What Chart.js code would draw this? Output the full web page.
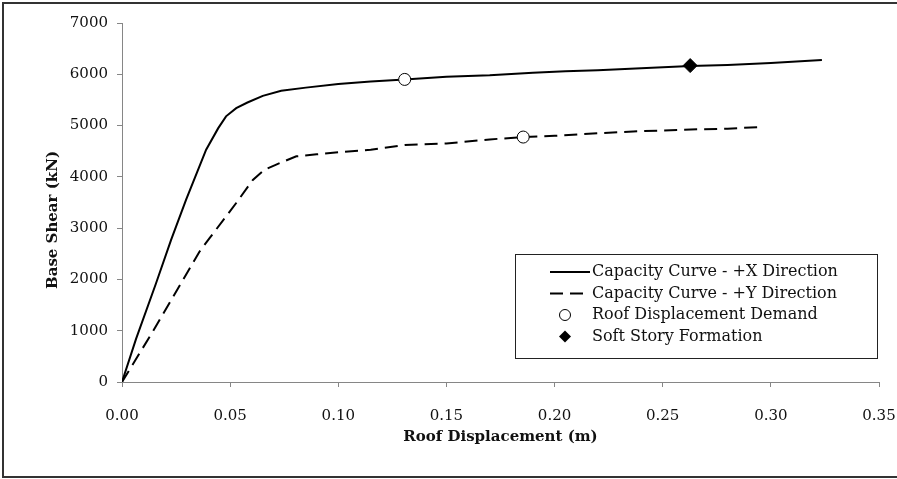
<!DOCTYPE html>
<html>
<head>
<meta charset="utf-8">
<script src="https://cdn.jsdelivr.net/npm/chart.js@4.4.1/dist/chart.umd.min.js"></script>
<style>
    body { margin: 0; background: #fff; }
    canvas { display: block; }
</style>
</head>
<body>
<canvas id="chart" width="897" height="479"></canvas>
<script>
// pushover curves
const dispX = [0, 0.0065, 0.0157, 0.0227, 0.0296, 0.0389, 0.0445, 0.0481, 0.0528, 0.058, 0.0651, 0.0736, 0.085, 0.10, 0.115, 0.1307, 0.15, 0.17, 0.19, 0.205, 0.22, 0.24, 0.2627, 0.28, 0.30, 0.3236];
const shearX = [0, 840, 1920, 2770, 3550, 4530, 4950, 5180, 5340, 5450, 5580, 5680, 5740, 5810, 5860, 5900, 5950, 5980, 6030, 6060, 6080, 6120, 6160, 6180, 6220, 6280];

const dispY = [0, 0.0142, 0.0358, 0.0404, 0.0528, 0.0605, 0.0659, 0.0713, 0.0806, 0.09, 0.10, 0.115, 0.1307, 0.15, 0.17, 0.1855, 0.20, 0.22, 0.2363, 0.26, 0.28, 0.295];
const shearY = [0, 980, 2540, 2800, 3490, 3940, 4140, 4240, 4400, 4440, 4480, 4530, 4620, 4650, 4730, 4776, 4800, 4850, 4885, 4920, 4940, 4970];

const demandDisp = [0.1307, 0.1855];
const demandShear = [5900, 4776];
const softDisp = [0.2627];
const softShear = [6170];

const legendLabels = [
    'Capacity Curve - +X Direction',
    'Capacity Curve - +Y Direction',
    'Roof Displacement Demand',
    'Soft Story Formation'
];
const xTitle = 'Roof Displacement (m)';
const yTitle = 'Base Shear (kN)';

function toPoints(xs, ys) {
    return xs.map((x, i) => ({ x: x, y: ys[i] }));
}

const tickFont = { family: 'DejaVu Serif', size: 15 };
const axisGrey = '#868686';

// frame, axis titles and the boxed legend
const extras = {
    id: 'extras',
    beforeDraw(chart) {
        const ctx = chart.ctx;
        ctx.save();
        ctx.strokeStyle = '#333';
        ctx.lineWidth = 2;
        ctx.strokeRect(3, 3, 900, 474);
        ctx.restore();
    },
    afterDraw(chart) {
        const ctx = chart.ctx;
        const area = chart.chartArea;
        ctx.save();
        ctx.fillStyle = '#111';
        ctx.font = 'bold 15px "DejaVu Serif"';
        ctx.textAlign = 'center';
        ctx.textBaseline = 'middle';
        ctx.fillText(xTitle, (area.left + area.right) / 2, 437);
        ctx.translate(53, 220);
        ctx.rotate(-Math.PI / 2);
        ctx.fillText(yTitle, 0, 0);
        ctx.restore();

        // legend
        ctx.save();
        ctx.fillStyle = '#fff';
        ctx.fillRect(515, 254, 362, 104);
        ctx.strokeStyle = '#222';
        ctx.lineWidth = 1;
        ctx.strokeRect(515.5, 254.5, 362, 104);
        const rows = [272, 293.5, 315, 336.5];
        ctx.strokeStyle = '#000';
        ctx.lineWidth = 2;
        ctx.beginPath();
        ctx.moveTo(550, rows[0]);
        ctx.lineTo(590, rows[0]);
        ctx.stroke();
        ctx.setLineDash([13, 7]);
        ctx.beginPath();
        ctx.moveTo(550, rows[1]);
        ctx.lineTo(590, rows[1]);
        ctx.stroke();
        ctx.setLineDash([]);
        ctx.lineWidth = 1;
        ctx.beginPath();
        ctx.arc(565, rows[2], 5.5, 0, Math.PI * 2);
        ctx.fillStyle = '#fff';
        ctx.fill();
        ctx.stroke();
        ctx.fillStyle = '#000';
        ctx.beginPath();
        ctx.moveTo(565, rows[3] - 6);
        ctx.lineTo(571, rows[3]);
        ctx.lineTo(565, rows[3] + 6);
        ctx.lineTo(559, rows[3]);
        ctx.closePath();
        ctx.fill();
        ctx.fillStyle = '#111';
        ctx.font = '16px "DejaVu Serif"';
        ctx.textAlign = 'left';
        ctx.textBaseline = 'middle';
        legendLabels.forEach((t, i) => ctx.fillText(t, 592, rows[i]));
        ctx.restore();
    }
};

const ctx = document.getElementById('chart').getContext('2d');
const chart = new Chart(ctx, {
    type: 'scatter',
    data: {
        datasets: [
            {
                label: legendLabels[0],
                data: toPoints(dispX, shearX),
                showLine: true,
                borderColor: '#000',
                borderWidth: 2,
                pointRadius: 0,
                tension: 0,
                order: 1
            },
            {
                label: legendLabels[1],
                data: toPoints(dispY, shearY),
                showLine: true,
                borderColor: '#000',
                borderWidth: 2,
                borderDash: [13, 7],
                pointRadius: 0,
                tension: 0,
                order: 1
            },
            {
                label: legendLabels[2],
                data: toPoints(demandDisp, demandShear),
                pointStyle: 'circle',
                pointRadius: 6,
                backgroundColor: '#fff',
                borderColor: '#000',
                borderWidth: 1,
                order: 0
            },
            {
                label: legendLabels[3],
                data: toPoints(softDisp, softShear),
                pointStyle: 'rectRot',
                pointRadius: 7,
                backgroundColor: '#000',
                borderColor: '#000',
                borderWidth: 1,
                order: 0
            }
        ]
    },
    options: {
        responsive: false,
        animation: false,
        layout: {
            padding: { left: 0, top: 23, right: 0, bottom: 0 }
        },
        plugins: {
            legend: { display: false },
            tooltip: { enabled: false }
        },
        scales: {
            x: {
                type: 'linear',
                min: 0,
                max: 0.35,
                afterFit: (scale) => {
                    scale.height = 97;
                    scale.paddingLeft = 0;
                    scale.paddingRight = 18;
                },
                ticks: {
                    stepSize: 0.05,
                    font: tickFont,
                    color: '#111',
                    padding: 20,
                    maxRotation: 0,
                    callback: (v) => v.toFixed(2)
                },
                grid: { drawOnChartArea: false, tickLength: 5, color: axisGrey },
                border: { color: axisGrey }
            },
            y: {
                min: 0,
                max: 7000,
                afterFit: (scale) => { scale.width = 122; },
                ticks: {
                    stepSize: 1000,
                    font: tickFont,
                    color: '#111',
                    padding: 9,
                    callback: (v) => String(v)
                },
                grid: { drawOnChartArea: false, tickLength: 5, color: axisGrey },
                border: { color: axisGrey }
            }
        }
    },
    plugins: [extras]
});
</script>
</body>
</html>
